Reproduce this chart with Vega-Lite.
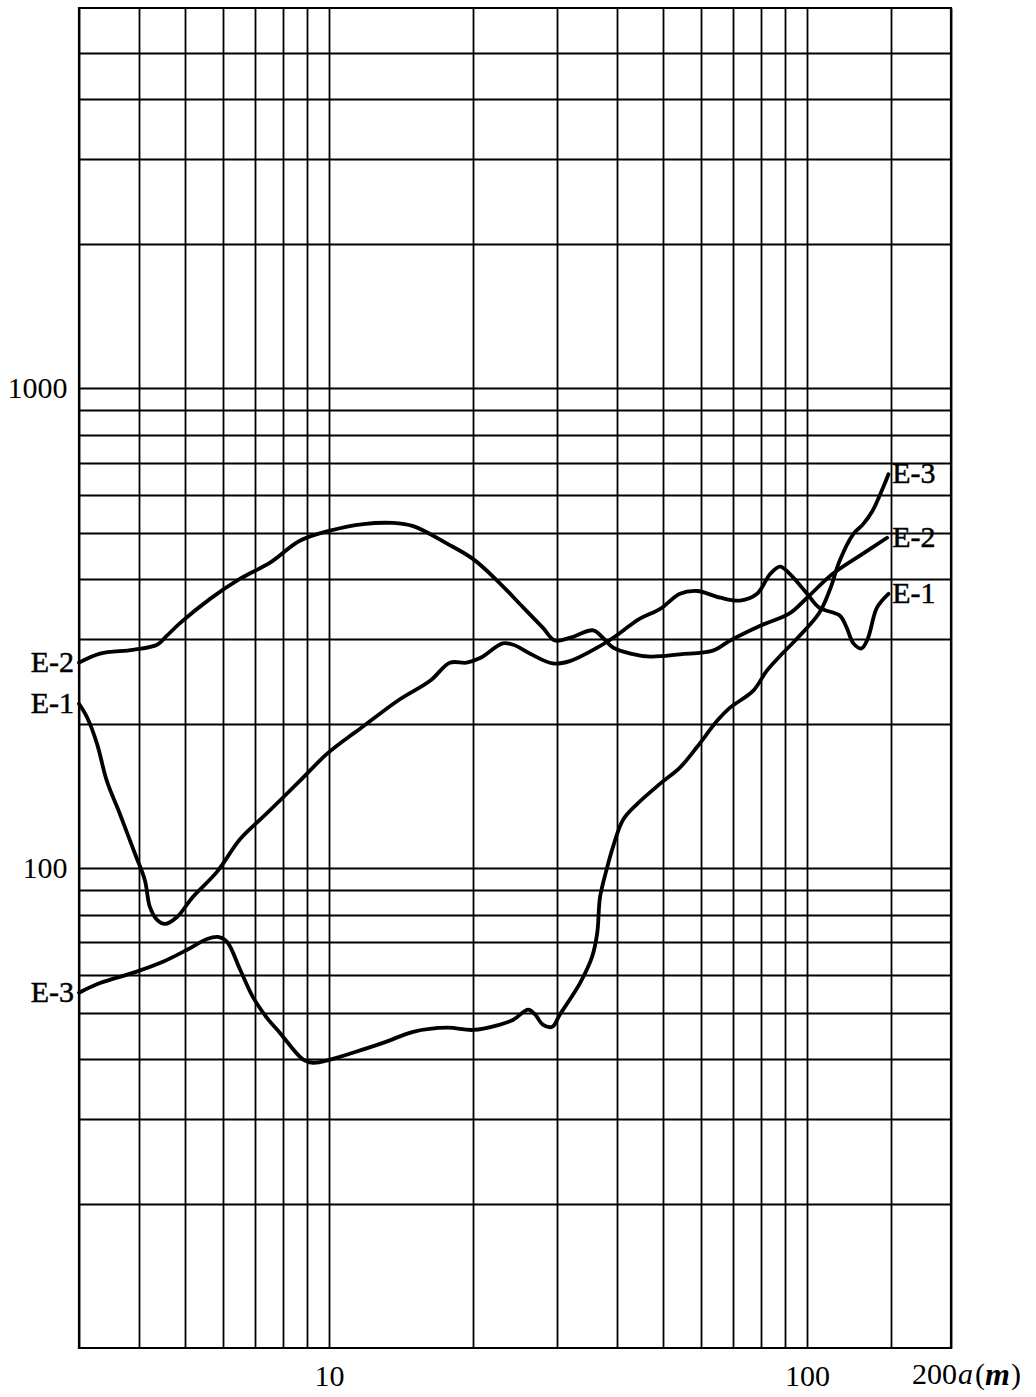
{
  "$schema": "https://vega.github.io/schema/vega-lite/v6.json",
  "width": 872,
  "height": 1340,
  "autosize": {"type": "none"},
  "padding": {"left": 79, "top": 8, "right": 85, "bottom": 49},
  "background": "white",
  "config": {
    "view": {"stroke": "black", "strokeWidth": 2.2},
    "font": "Liberation Serif"
  },
  "datasets": {
    "curves": [
      {"s": "E-1", "x": 3.0, "y": 220}, {"s": "E-1", "x": 3.12, "y": 206}, {"s": "E-1", "x": 3.27, "y": 182}, {"s": "E-1", "x": 3.43, "y": 152},
      {"s": "E-1", "x": 3.65, "y": 130}, {"s": "E-1", "x": 3.93, "y": 107}, {"s": "E-1", "x": 4.12, "y": 94.4}, {"s": "E-1", "x": 4.22, "y": 83},
      {"s": "E-1", "x": 4.37, "y": 78}, {"s": "E-1", "x": 4.54, "y": 76.5}, {"s": "E-1", "x": 4.81, "y": 79.1}, {"s": "E-1", "x": 5.19, "y": 87.1},
      {"s": "E-1", "x": 5.83, "y": 98.2}, {"s": "E-1", "x": 6.52, "y": 115}, {"s": "E-1", "x": 7.41, "y": 130}, {"s": "E-1", "x": 8.69, "y": 152},
      {"s": "E-1", "x": 9.9, "y": 173}, {"s": "E-1", "x": 11.1, "y": 189}, {"s": "E-1", "x": 11.6, "y": 195}, {"s": "E-1", "x": 13.9, "y": 223},
      {"s": "E-1", "x": 16.3, "y": 246}, {"s": "E-1", "x": 17.9, "y": 268}, {"s": "E-1", "x": 19.4, "y": 268}, {"s": "E-1", "x": 20.7, "y": 274},
      {"s": "E-1", "x": 23.1, "y": 294}, {"s": "E-1", "x": 24.3, "y": 292}, {"s": "E-1", "x": 26.3, "y": 280}, {"s": "E-1", "x": 29.4, "y": 267},
      {"s": "E-1", "x": 31.9, "y": 270}, {"s": "E-1", "x": 36.4, "y": 288}, {"s": "E-1", "x": 39.3, "y": 302}, {"s": "E-1", "x": 44.7, "y": 331},
      {"s": "E-1", "x": 49.3, "y": 347}, {"s": "E-1", "x": 54.2, "y": 373}, {"s": "E-1", "x": 58.9, "y": 378}, {"s": "E-1", "x": 65.8, "y": 366},
      {"s": "E-1", "x": 72.4, "y": 361}, {"s": "E-1", "x": 78.6, "y": 373}, {"s": "E-1", "x": 83.7, "y": 410}, {"s": "E-1", "x": 87.8, "y": 425},
      {"s": "E-1", "x": 92.1, "y": 410}, {"s": "E-1", "x": 100, "y": 373}, {"s": "E-1", "x": 106, "y": 349}, {"s": "E-1", "x": 117, "y": 336},
      {"s": "E-1", "x": 121, "y": 317}, {"s": "E-1", "x": 125, "y": 294}, {"s": "E-1", "x": 130, "y": 287}, {"s": "E-1", "x": 134, "y": 301},
      {"s": "E-1", "x": 140, "y": 349}, {"s": "E-1", "x": 148, "y": 373},

      {"s": "E-2", "x": 3.0, "y": 268}, {"s": "E-2", "x": 3.32, "y": 280}, {"s": "E-2", "x": 3.89, "y": 285}, {"s": "E-2", "x": 4.37, "y": 292},
      {"s": "E-2", "x": 4.58, "y": 305}, {"s": "E-2", "x": 4.88, "y": 324}, {"s": "E-2", "x": 5.64, "y": 364}, {"s": "E-2", "x": 6.52, "y": 401},
      {"s": "E-2", "x": 7.53, "y": 433}, {"s": "E-2", "x": 8.69, "y": 481}, {"s": "E-2", "x": 10.05, "y": 505}, {"s": "E-2", "x": 11.8, "y": 521},
      {"s": "E-2", "x": 13.6, "y": 524}, {"s": "E-2", "x": 15.0, "y": 516}, {"s": "E-2", "x": 17.7, "y": 474}, {"s": "E-2", "x": 20.0, "y": 441},
      {"s": "E-2", "x": 22.5, "y": 397}, {"s": "E-2", "x": 25.5, "y": 349}, {"s": "E-2", "x": 28.0, "y": 317}, {"s": "E-2", "x": 29.7, "y": 298},
      {"s": "E-2", "x": 31.9, "y": 302}, {"s": "E-2", "x": 35.7, "y": 313}, {"s": "E-2", "x": 37.4, "y": 302}, {"s": "E-2", "x": 39.3, "y": 288},
      {"s": "E-2", "x": 42.7, "y": 280}, {"s": "E-2", "x": 47.0, "y": 276}, {"s": "E-2", "x": 54.2, "y": 279}, {"s": "E-2", "x": 63.5, "y": 284},
      {"s": "E-2", "x": 69.0, "y": 298}, {"s": "E-2", "x": 79.8, "y": 320}, {"s": "E-2", "x": 92.1, "y": 340}, {"s": "E-2", "x": 100, "y": 366},
      {"s": "E-2", "x": 113, "y": 410}, {"s": "E-2", "x": 129, "y": 448}, {"s": "E-2", "x": 147, "y": 488},

      {"s": "E-3", "x": 3.0, "y": 55.0}, {"s": "E-3", "x": 3.32, "y": 57.6}, {"s": "E-3", "x": 3.89, "y": 60.5}, {"s": "E-3", "x": 4.43, "y": 63.4},
      {"s": "E-3", "x": 5.05, "y": 67.6}, {"s": "E-3", "x": 5.56, "y": 71.2}, {"s": "E-3", "x": 5.86, "y": 71.9}, {"s": "E-3", "x": 6.12, "y": 70.2},
      {"s": "E-3", "x": 6.52, "y": 61.4}, {"s": "E-3", "x": 6.93, "y": 53.9}, {"s": "E-3", "x": 7.41, "y": 48.8}, {"s": "E-3", "x": 7.89, "y": 45.4},
      {"s": "E-3", "x": 8.83, "y": 39.9}, {"s": "E-3", "x": 9.26, "y": 39.3}, {"s": "E-3", "x": 10.05, "y": 39.9}, {"s": "E-3", "x": 11.8, "y": 41.9},
      {"s": "E-3", "x": 13.2, "y": 43.5}, {"s": "E-3", "x": 15.0, "y": 45.6}, {"s": "E-3", "x": 17.7, "y": 46.5}, {"s": "E-3", "x": 20.0, "y": 46.0},
      {"s": "E-3", "x": 22.8, "y": 47.2}, {"s": "E-3", "x": 24.3, "y": 48.3}, {"s": "E-3", "x": 26.1, "y": 50.7}, {"s": "E-3", "x": 27.0, "y": 49.5},
      {"s": "E-3", "x": 28.0, "y": 47.2}, {"s": "E-3", "x": 29.3, "y": 46.7}, {"s": "E-3", "x": 30.4, "y": 49.5}, {"s": "E-3", "x": 33.5, "y": 57.6},
      {"s": "E-3", "x": 35.5, "y": 65.3}, {"s": "E-3", "x": 36.4, "y": 73.3}, {"s": "E-3", "x": 36.9, "y": 87.1}, {"s": "E-3", "x": 38.2, "y": 100.5},
      {"s": "E-3", "x": 39.3, "y": 111}, {"s": "E-3", "x": 41.2, "y": 126}, {"s": "E-3", "x": 44.1, "y": 136}, {"s": "E-3", "x": 49.3, "y": 150},
      {"s": "E-3", "x": 54.2, "y": 162}, {"s": "E-3", "x": 58.9, "y": 179}, {"s": "E-3", "x": 64.9, "y": 203}, {"s": "E-3", "x": 69.0, "y": 216},
      {"s": "E-3", "x": 77.1, "y": 234}, {"s": "E-3", "x": 82.4, "y": 258}, {"s": "E-3", "x": 89.1, "y": 281}, {"s": "E-3", "x": 95.3, "y": 301},
      {"s": "E-3", "x": 106, "y": 340}, {"s": "E-3", "x": 112, "y": 384}, {"s": "E-3", "x": 117, "y": 437}, {"s": "E-3", "x": 125, "y": 497},
      {"s": "E-3", "x": 131, "y": 521}, {"s": "E-3", "x": 137, "y": 555}, {"s": "E-3", "x": 144, "y": 619}, {"s": "E-3", "x": 148, "y": 662}
    ],
    "labelsLeft": [
      {"s": "E-2", "x": 3, "y": 268},
      {"s": "E-1", "x": 3, "y": 220},
      {"s": "E-3", "x": 3, "y": 55}
    ],
    "labelsRight": [
      {"s": "E-3", "x": 150, "y": 662},
      {"s": "E-2", "x": 150, "y": 488},
      {"s": "E-1", "x": 150, "y": 373}
    ],
    "xEnd": [{"x": 200, "y": 10}]
  },
  "encoding": {
    "x": {
      "field": "x", "type": "quantitative",
      "scale": {"type": "log", "domain": [3, 200], "nice": false, "zero": false},
      "axis": {
        "title": null,
        "values": [3, 4, 5, 6, 7, 8, 9, 10, 20, 30, 40, 50, 60, 70, 80, 90, 100, 150, 200],
        "labelExpr": "datum.value == 10 ? '10' : (datum.value == 100 ? '100' : '')",
        "grid": true, "gridColor": "black", "gridOpacity": 1, "gridWidth": 1.8,
        "domain": false, "ticks": false, "tickSize": 0,
        "labelFont": "Liberation Serif", "labelFontSize": 30, "labelColor": "black",
        "labelPadding": 13, "labelFlush": false, "labelOverlap": false
      }
    },
    "y": {
      "field": "y", "type": "quantitative",
      "scale": {"type": "log", "domain": [10, 6200], "nice": false, "zero": false},
      "axis": {
        "title": null,
        "values": [20, 30, 40, 50, 60, 70, 80, 90, 100, 200, 300, 400, 500, 600, 700, 800, 900, 1000, 2000, 3000, 4000, 5000],
        "labelExpr": "datum.value == 100 ? '100' : (datum.value == 1000 ? '1000' : '')",
        "grid": true, "gridColor": "black", "gridOpacity": 1, "gridWidth": 1.8,
        "domain": false, "ticks": false, "tickSize": 0,
        "labelFont": "Liberation Serif", "labelFontSize": 30, "labelColor": "black",
        "labelPadding": 12, "labelFlush": false, "labelOverlap": false
      }
    }
  },
  "layer": [
    {
      "data": {"name": "curves"},
      "mark": {"type": "line", "color": "black", "strokeWidth": 3.8, "interpolate": "catmull-rom", "strokeJoin": "round", "strokeCap": "round"},
      "encoding": {"detail": {"field": "s"}}
    },
    {
      "data": {"name": "labelsLeft"},
      "mark": {"type": "text", "align": "right", "baseline": "middle", "dx": -5, "fontSize": 30, "font": "Liberation Serif", "color": "black", "stroke": "black", "strokeWidth": 0.5},
      "encoding": {"text": {"field": "s"}}
    },
    {
      "data": {"name": "labelsRight"},
      "mark": {"type": "text", "align": "left", "baseline": "middle", "dx": 1, "fontSize": 30, "font": "Liberation Serif", "color": "black", "stroke": "black", "strokeWidth": 0.5},
      "encoding": {"text": {"field": "s"}}
    },
    {
      "data": {"name": "xEnd"},
      "mark": {"type": "text", "align": "left", "baseline": "middle", "dx": -39, "dy": 27, "fontSize": 30, "font": "Liberation Serif", "color": "black", "text": "200"},
      "encoding": {}
    },
    {
      "data": {"name": "xEnd"},
      "mark": {"type": "text", "align": "left", "baseline": "middle", "dx": 7, "dy": 27, "fontSize": 30, "font": "Liberation Serif", "fontStyle": "italic", "color": "black", "text": "a"},
      "encoding": {}
    },
    {
      "data": {"name": "xEnd"},
      "mark": {"type": "text", "align": "left", "baseline": "middle", "dx": 24, "dy": 27, "fontSize": 30, "font": "Liberation Serif", "color": "black", "text": "("},
      "encoding": {}
    },
    {
      "data": {"name": "xEnd"},
      "mark": {"type": "text", "align": "left", "baseline": "middle", "dx": 34, "dy": 27, "fontSize": 32, "font": "Liberation Serif", "fontStyle": "italic", "fontWeight": "bold", "color": "black", "text": "m"},
      "encoding": {}
    },
    {
      "data": {"name": "xEnd"},
      "mark": {"type": "text", "align": "left", "baseline": "middle", "dx": 60, "dy": 27, "fontSize": 30, "font": "Liberation Serif", "color": "black", "text": ")"},
      "encoding": {}
    }
  ]
}
